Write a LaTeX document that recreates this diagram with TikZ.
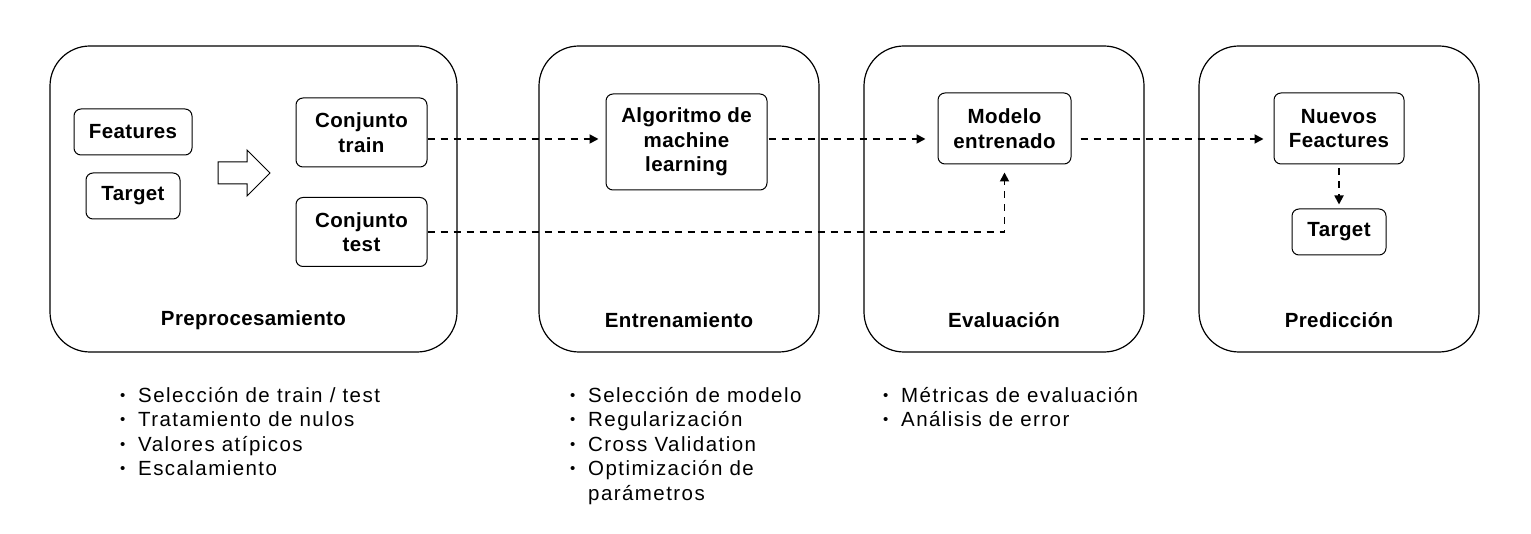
\documentclass[tikz,border=0pt]{standalone}
\usepackage{fontspec}
\setmainfont{Liberation Sans}
\newfontfamily\listfont[LetterSpace=7]{Liberation Sans}
\newfontfamily\boldfont[LetterSpace=2]{Liberation Sans Bold}
\usetikzlibrary{arrows.meta}
\tikzset{
  stage/.style={draw=black, line width=1.2pt, rounded corners=40pt, minimum width=280pt, minimum height=306pt},
  item/.style={draw=black, line width=1pt, rounded corners=7pt, align=center, inner sep=0pt,
    font=\fontsize{20.5}{24.5}\selectfont\boldfont},
  title/.style={font=\fontsize{20.5}{24.5}\selectfont\boldfont, inner sep=0pt},
  conn/.style={line width=1.8pt, dash pattern=on 7pt off 6pt, -{Triangle[length=9pt,width=9pt]}},
  bullets/.style={align=left, anchor=north west, inner sep=0pt, font=\fontsize{20.5}{24.5}\selectfont\listfont},
}
\newcommand{\bl}{\makebox[18pt][l]{\raisebox{2pt}{\fontsize{15}{15}\selectfont\textbullet}}}
\begin{document}
\begin{tikzpicture}[x=1pt,y=-1pt]
\useasboundingbox (0,0) rectangle (1531,534);
% stages
\node[stage, minimum width=407pt] (s1) at (253.5,199) {};
\node[stage] (s2) at (679,199) {};
\node[stage] (s3) at (1004,199) {};
\node[stage] (s4) at (1339,199) {};
\node[title] (t1) at (253.5,320) {Preprocesamiento};
\node[title] (t2) at (679,320) {Entrenamiento};
\node[title] (t3) at (1004,320) {Evaluación};
\node[title] (t4) at (1339,320) {Predicción};
% items
\node[item, minimum width=118pt, minimum height=46pt] (feat) at (133,132) {Features};
\node[item, minimum width=94pt, minimum height=46pt] (targ1) at (133,196) {Target};
\node[item, minimum width=131pt, minimum height=69pt] (train) at (361.5,132.5) {Conjunto\\train};
\node[item, minimum width=131pt, minimum height=69pt] (test) at (361.5,232) {Conjunto\\test};
\node[item, minimum width=161pt, minimum height=96pt] (algo) at (686.5,142) {Algoritmo de\\machine\\learning};
\node[item, minimum width=133pt, minimum height=71pt] (model) at (1004.5,128.5) {Modelo\\entrenado};
\node[item, minimum width=130pt, minimum height=71pt] (nuevos) at (1339,128.5) {Nuevos\\Feactures};
\node[item, minimum width=94pt, minimum height=46pt] (targ2) at (1339,232) {Target};
% block arrow
\draw[line width=1pt, fill=white] (218,162) -- (247,162) -- (247,150) -- (270,173) -- (247,196) -- (247,184) -- (218,184) -- cycle;
% connectors
\draw[conn, shorten >=7pt] (train.east |- 0,139) -- (algo.west |- 0,139);
\draw[conn, shorten <=1pt, shorten >=12pt] (algo.east |- 0,139) -- (model.west |- 0,139);
\draw[conn, shorten <=9pt, shorten >=10pt] (model.east |- 0,139) -- (nuevos.west |- 0,139);
\coordinate (bend) at (model.south |- test.east);
\draw[conn, shorten >=8pt] (test.east) -- (bend) -- (model.south);
\draw[conn, shorten <=4pt, shorten >=4pt] (nuevos.south) -- (targ2.north);
% bullet lists
\node[bullets] (l1) at (120,387) {\bl Selección de train / test\\\bl Tratamiento de nulos\\\bl Valores atípicos\\\bl Escalamiento};
\node[bullets] (l2) at (570,387) {\bl Selección de modelo\\\bl Regularización\\\bl Cross Validation\\\bl Optimización de\\\hspace*{18pt}parámetros};
\node[bullets] (l3) at (883,387) {\bl Métricas de evaluación\\\bl Análisis de error};
\end{tikzpicture}
\end{document}
